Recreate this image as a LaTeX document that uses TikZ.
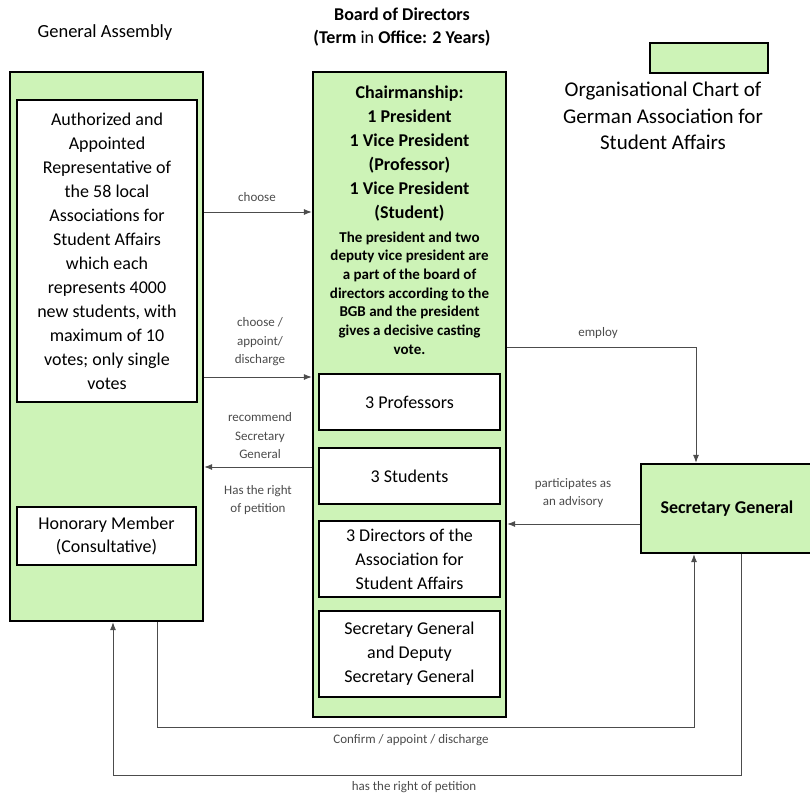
\documentclass[tikz,border=0pt]{standalone}
\usepackage{fontspec}
\setmainfont{Carlito}
\usetikzlibrary{arrows.meta,positioning}
\definecolor{boxgreen}{RGB}{205,243,183}
\definecolor{lblgray}{RGB}{75,75,75}

\begin{document}
\begin{tikzpicture}[x=1pt,y=-1pt,
  greenbox/.style={draw,line width=2.4pt,fill=boxgreen,inner sep=0pt},
  whitebox/.style={draw,line width=2.4pt,fill=white,inner sep=0pt,align=center,
    font=\fontsize{18}{24}\selectfont},
  lbl/.style={font=\fontsize{13}{18.5}\selectfont,text=lblgray,align=center},
  conn/.style={draw=black!70,line width=0.8pt,-{Latex[length=8pt,width=6pt]}},
  line/.style={draw=black!70,line width=0.8pt}]
\useasboundingbox (0,0) rectangle (810,797);

% headings
\node[font=\fontsize{18.5}{22}\selectfont] (ga title) at (105,33) {General Assembly};
\node[font=\fontsize{18}{23}\selectfont\bfseries,align=center] (board title) at (402,27)
  {Board of Directors\\(Term {\mdseries in} Office: 2 Years)};
\node[greenbox,minimum width=118pt,minimum height=30pt] (legend) at (709,58) {};
\node[font=\fontsize{21}{26.5}\selectfont,align=center] (chart title) at (663,116)
  {Organisational Chart of\\German Association for\\Student Affairs};

% general assembly
\node[greenbox,minimum width=193pt,minimum height=549pt] (ga) at (106.5,346.5) {};
\node[whitebox,minimum width=180pt,minimum height=302pt] (rep) at (107,251)
  {Authorized and\\Appointed\\Representative of\\the 58 local\\Associations for\\Student Affairs\\which each\\represents 4000\\new students, with\\maximum of 10\\votes; only single\\votes};
\node[whitebox,minimum width=179pt,minimum height=58pt,font=\fontsize{18}{23}\selectfont] (honorary) at (106.5,536)
  {Honorary Member\\(Consultative)};

% board of directors
\node[greenbox,minimum width=193pt,minimum height=645pt] (board) at (409.5,394.5) {};
\node[font=\fontsize{18}{24}\selectfont\bfseries,align=center] (chair) at (409.5,154)
  {Chairmanship:\\1 President\\1 Vice President\\(Professor)\\1 Vice President\\(Student)};
\node[font=\fontsize{15}{18.7}\selectfont\bfseries,align=center] (note) at (409.5,293)
  {The president and two\\deputy vice president are\\a part of the board of\\directors according to the\\BGB and the president\\gives a decisive casting\\vote.};
\node[whitebox,minimum width=181pt,minimum height=56pt] (prof) at (409.5,402) {3 Professors};
\node[whitebox,minimum width=181pt,minimum height=56pt] (stud) at (409.5,476) {3 Students};
\node[whitebox,minimum width=181pt,minimum height=76pt] (dir) at (409.5,559)
  {3 Directors of the\\Association for\\Student Affairs};
\node[whitebox,minimum width=181pt,minimum height=86pt] (deputy) at (409.5,654)
  {Secretary General\\and Deputy\\Secretary General};

% secretary general
\node[greenbox,minimum width=172pt,minimum height=89pt,font=\fontsize{18}{22}\selectfont\bfseries] (sg) at (727,508.5)
  {Secretary General};

% connectors
\coordinate (y choose) at (0,212);
\coordinate (y appoint) at (0,377);
\coordinate (y recommend) at (0,467);
\coordinate (employ turn) at (696,347);
\coordinate (y advisory) at (0,524);
\coordinate (confirm left) at (157,727);
\coordinate (confirm right) at (694,727);
\coordinate (petition right) at (741,775);
\coordinate (petition left) at (113,775);

\draw[conn] (ga.east |- y choose) -- (board.west |- y choose);
\draw[conn] (ga.east |- y appoint) -- (board.west |- y appoint);
\draw[conn] (board.west |- y recommend) -- (ga.east |- y recommend);
\draw[conn] (board.east |- employ turn) -- (employ turn) -- (sg.north -| employ turn);
\draw[conn] (sg.west |- y advisory) -- (board.east |- y advisory);
\draw[conn] (ga.south -| confirm left) -- (confirm left) -- (confirm right) -- (sg.south -| confirm right);
\draw[conn] (sg.south -| petition right) -- (petition right) -- (petition left) -- (ga.south -| petition left);

% connector labels
\node[lbl] (l choose) at (257,197) {choose};
\node[lbl] (l appoint) at (260,342) {choose /\\appoint/\\discharge};
\node[lbl] (l recommend) at (260,436) {recommend\\Secretary\\General};
\node[lbl] (l petition) at (258,500) {Has the right\\of petition};
\node[lbl] (l employ) at (598,333) {employ};
\node[lbl] (l advisory) at (573,493) {participates as\\an advisory};
\node[lbl] (l confirm) at (411,740) {Confirm / appoint / discharge};
\node[lbl] (l has right) at (414,787) {has the right of petition};
\end{tikzpicture}
\end{document}
